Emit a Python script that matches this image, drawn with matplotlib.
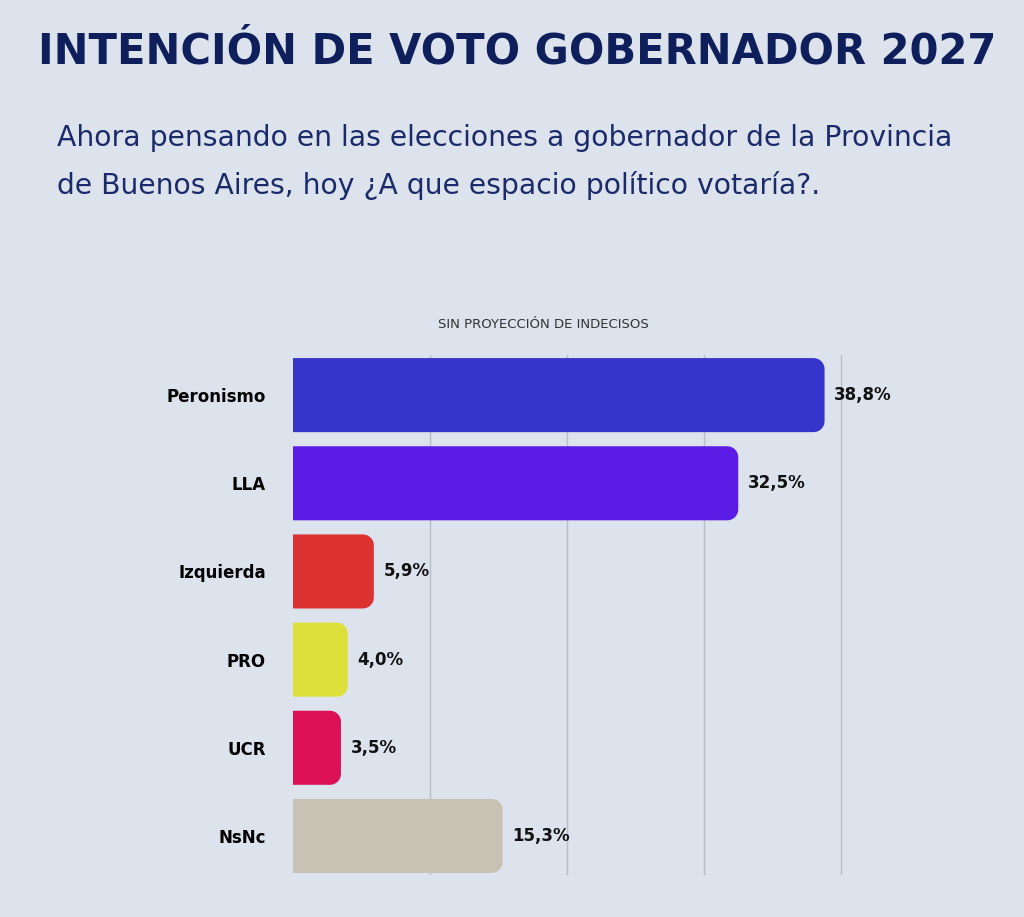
import matplotlib
matplotlib.use("Agg")
import numpy as np
import matplotlib.pyplot as plt
from matplotlib.patches import Polygon

categories = ["Peronismo", "LLA", "Izquierda", "PRO", "UCR", "NsNc"]
values = [38.8, 32.5, 5.9, 4.0, 3.5, 15.3]
labels = ["38,8%", "32,5%", "5,9%", "4,0%", "3,5%", "15,3%"]
colors = ["#3535CC", "#5B1CE6", "#DC3232", "#DDE03A", "#DC1055", "#C8C2B5"]

bg = "#DCE3EC"
fig = plt.figure(figsize=(10.24, 9.17), dpi=100, facecolor=bg)
ax = fig.add_axes([293/1024, 1-875/917, 685/1024, 520/917])
ax.set_facecolor(bg)
ax.set_xlim(0, 50)
ax.set_ylim(5.443, -0.455)
for g in [10, 20, 30, 40]:
    ax.axvline(g, color="#B8BEC6", lw=1, zorder=0)
h = 0.84
rx, ry = 11 / (685/50), 11 / 88
t = np.linspace(0, np.pi/2, 12)
for i, (v, c, lab) in enumerate(zip(values, colors, labels)):
    y0, y1 = i - h/2, i + h/2
    pts = [(0, y0)]
    pts += [(v - rx + rx*np.sin(a), y0 + ry - ry*np.cos(a)) for a in t]
    pts += [(v - rx + rx*np.cos(a), y1 - ry + ry*np.sin(a)) for a in t]
    pts += [(0, y1)]
    ax.add_patch(Polygon(pts, closed=True, fc=c, ec="none", zorder=2))
    ax.text(v + 0.7, i, lab, va="center", ha="left", fontsize=12, fontweight="bold", color="#111111")
ax.set_yticks(range(len(categories)))
ax.set_yticklabels(categories, fontsize=12, fontweight="bold")
ax.tick_params(left=False, bottom=False, labelbottom=False, pad=16)
for s in ax.spines.values():
    s.set_visible(False)

fig.text(517/1024, 1-52/917, "INTENCIÓN DE VOTO GOBERNADOR 2027", ha="center", va="center",
         fontsize=30, fontweight="bold", color="#0F1F5C")
fig.text(57/1024, 1-138/917, "Ahora pensando en las elecciones a gobernador de la Provincia",
         ha="left", va="center", fontsize=20.3, color="#1B2A6B")
fig.text(57/1024, 1-186/917, "de Buenos Aires, hoy ¿A que espacio político votaría?.",
         ha="left", va="center", fontsize=20.3, color="#1B2A6B")
fig.text(543/1024, 1-324/917, "SIN PROYECCIÓN DE INDECISOS", ha="center", va="center",
         fontsize=9.5, color="#333333")
fig.savefig("out.png", dpi=100, facecolor=bg)
